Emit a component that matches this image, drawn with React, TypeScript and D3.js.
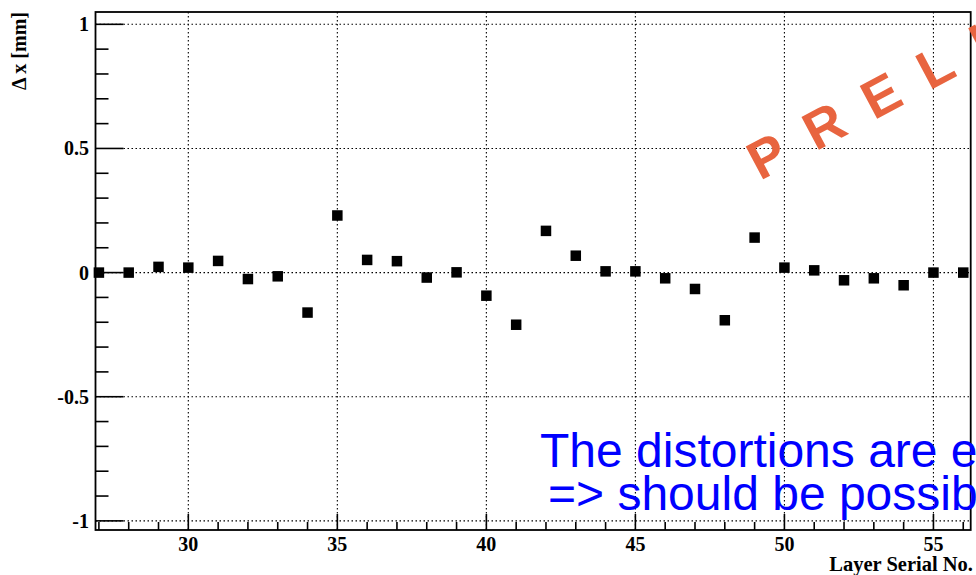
import React from "react";
import * as d3 from "d3";

const layers = [27, 28, 29, 30, 31, 32, 33, 34, 35, 36, 37, 38, 39, 40, 41, 42, 43, 44, 45, 46, 47, 48, 49, 50, 51, 52, 53, 54, 55, 56];
const deltaX = [0, 0, 0.023, 0.02, 0.047, -0.026, -0.015, -0.161, 0.23, 0.051, 0.046, -0.02, 0.001, -0.093, -0.21, 0.168, 0.068, 0.005, 0.005, -0.023, -0.066, -0.192, 0.141, 0.02, 0.009, -0.031, -0.023, -0.051, 0, 0];
const xMajorTicks = [30, 35, 40, 45, 50, 55];
const yMajorTicks = [-1, -0.5, 0, 0.5, 1];
const yTickLabels = ["-1", "-0.5", "0", "0.5", "1"];
const xTitle = "Layer Serial No.";
const yTitle = "\u0394 x [mm]";
const watermark = "PRELIMINARY";
const noteLines = ["The distortions are easily seen", "=> should be possible to correct"];

const W = 976;
const H = 575;
const L = 95.5, R = 970.7, T = 12, B = 530;

export default function App() {
  const x = d3.scaleLinear().domain([26.886, 56.25]).range([L, R]);
  const y = d3.scaleLinear().domain([-1.0368, 1.0496]).range([B, T]);
  const xMinor = d3.range(27, 57, 1);
  const yMinor = d3.range(-10, 11, 1).map((v) => v / 10);
  const serif = "'Liberation Serif', 'Times New Roman', serif";
  const sans = "'Liberation Sans', Arial, sans-serif";
  const ms = 10.5;
  return (
    <svg width={W} height={H} style={{ position: "absolute", left: 0, top: 0, background: "#fff" }}>
      <rect x={0} y={0} width={W} height={H} fill="#fff" />
      {/* grid */}
      <g stroke="#000" strokeWidth={1.1} strokeDasharray="1.5,2.5">
        {xMajorTicks.map((t) => (
          <line key={"gx" + t} x1={x(t)} x2={x(t)} y1={T} y2={B} />
        ))}
        {yMajorTicks.map((t) => (
          <line key={"gy" + t} x1={L} x2={R} y1={y(t)} y2={y(t)} />
        ))}
      </g>
      {/* ticks */}
      <g stroke="#000" strokeWidth={1.6}>
        {xMinor.map((t) => (
          <line key={"tx" + t} x1={x(t)} x2={x(t)} y1={B} y2={B - (t % 5 === 0 ? 16 : 8)} />
        ))}
        {yMinor.map((t) => {
          const major = Math.abs(Math.round(t * 10)) % 5 === 0;
          return <line key={"ty" + t} x1={L} x2={L + (major ? 28 : 13)} y1={y(t)} y2={y(t)} />;
        })}
      </g>
      {/* frame */}
      <rect x={L} y={T} width={R - L} height={B - T} fill="none" stroke="#000" strokeWidth={1.8} />
      {/* data */}
      <g fill="#000">
        {layers.map((l, i) => (
          <rect key={"p" + l} x={x(l) - ms / 2} y={y(deltaX[i]) - ms / 2} width={ms} height={ms} />
        ))}
      </g>
      {/* tick labels */}
      <g fontFamily={serif} fontWeight="bold" fontSize={20} fill="#000">
        {yMajorTicks.map((t, i) => (
          <text key={"ly" + t} x={89} y={y(t)} dy="0.35em" textAnchor="end">
            {yTickLabels[i]}
          </text>
        ))}
        {xMajorTicks.map((t) => (
          <text key={"lx" + t} x={x(t)} y={551} textAnchor="middle">
            {t}
          </text>
        ))}
      </g>
      <text x={973} y={571} textAnchor="end" fontFamily={serif} fontWeight="bold" fontSize={20.5}>
        {xTitle}
      </text>
      <text
        transform="translate(26,12) rotate(-90)"
        textAnchor="end"
        fontFamily={serif}
        fontWeight="bold"
        fontSize={20}
      >
        {yTitle}
      </text>
      {/* watermark */}
      <text
        transform="translate(760,181) rotate(-28)"
        fontFamily={sans}
        fontWeight="bold"
        fontSize={54}
        letterSpacing={27}
        fill="#E8643F"
      >
        {watermark}
      </text>
      {/* note */}
      <g fontFamily={sans} fontSize={48} fill="#0000FF">
        <text x={540} y={467}>{noteLines[0]}</text>
        <text x={548} y={510}>{noteLines[1]}</text>
      </g>
    </svg>
  );
}
